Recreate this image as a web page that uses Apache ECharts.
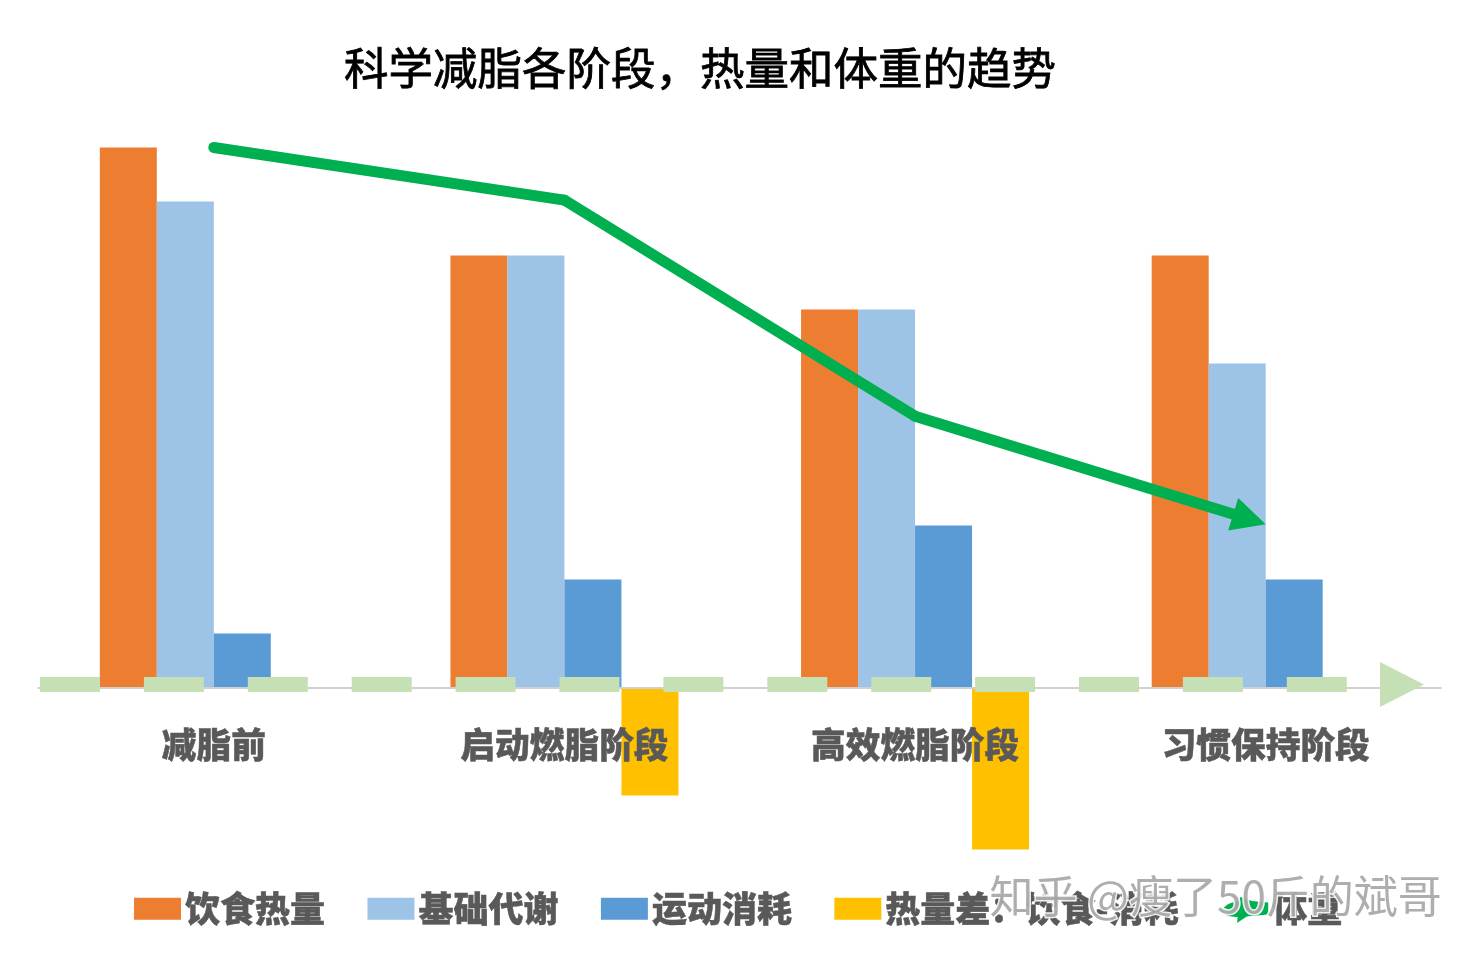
<!DOCTYPE html>
<html><head><meta charset="utf-8">
<style>html,body{margin:0;padding:0;background:#fff}#c{width:1480px;height:958px}</style>
<script src="https://cdn.jsdelivr.net/npm/echarts@6/dist/echarts.min.js"></script>
</head><body><div id="c"></div>
<script>
const categories = ['减脂前','启动燃脂阶段','高效燃脂阶段','习惯保持阶段'];
const intake = [2000,1600,1400,1600];
const metabolism = [1800,1600,1400,1200];
const exercise = [200,400,600,400];
const gap = [0,-400,-600,0];
const weight = [2000,1805,1005,605];
const names = ['饮食热量','基础代谢','运动消耗','热量差：饮食-消耗','体重'];
const titleText = '科学减脂各阶段，热量和体重的趋势';
const watermark = '知乎 @瘦了50斤的斌哥';
const CJK = '"Noto Sans CJK SC","Noto Sans",sans-serif';
const GREEN = '#00B050';

function renderWeight(params, api){
  const i = params.dataIndex;
  const p = api.coord([i, api.value(1)]);
  const children = [];
  if(i>0){
    const q = api.coord([i-1, weight[i-1]]);
    let end = p;
    if(i===weight.length-1){
      const d = Math.hypot(p[0]-q[0],p[1]-q[1]);
      end = [p[0]-(p[0]-q[0])/d*20, p[1]-(p[1]-q[1])/d*20];
      const ux=(p[0]-q[0])/d, uy=(p[1]-q[1])/d, L=34, W=17;
      children.push({type:'polygon',shape:{points:[p,
        [p[0]-ux*L-uy*W,p[1]-uy*L+ux*W],
        [p[0]-ux*L+uy*W,p[1]-uy*L-ux*W]]},style:{fill:GREEN}});
    }
    children.unshift({type:'line',shape:{x1:q[0],y1:q[1],x2:end[0],y2:end[1]},
      style:{stroke:GREEN,lineWidth:11,lineCap:'round',fill:null}});
  }
  return {type:'group',children};
}

const barBase = {type:'bar',barWidth:57,barGap:0};
const chart = echarts.init(document.getElementById('c'),null,{renderer:'canvas'});
chart.setOption({
  animation:false,
  backgroundColor:'#fff',
  title:{text:titleText,left:339,top:41,itemGap:0,padding:5,
    textStyle:{fontFamily:CJK,fontSize:44.5,fontWeight:400,color:'#000',textBorderColor:'#000',textBorderWidth:0.8}},
  legend:{
    left:134,top:891,padding:0,itemWidth:47,itemHeight:22,itemGap:42.2,
    selectedMode:false,
    textStyle:{fontFamily:CJK,fontSize:35,fontWeight:900,color:'#595959',padding:[0,0,0,-1],textBorderColor:'#595959',textBorderWidth:0.5}, 
    data:[{name:names[0],icon:'rect'},{name:names[1],icon:'rect'},{name:names[2],icon:'rect'},{name:names[3],icon:'rect'},
      {name:names[4],icon:'path://M0,14 C4,5 16,3 24,3 L47,5 L47,17 L24,19 C16,19 6,21 0,14 Z'}]
  },
  grid:{left:38.5,width:1402.5,top:147.5,height:702,containLabel:false},
  xAxis:{type:'category',data:categories,z:4,
    axisLine:{onZero:true,lineStyle:{color:'#D0D0D0',width:2}},
    axisTick:{show:false},
    axisLabel:{margin:-122,interval:0,fontFamily:CJK,fontSize:34.7,fontWeight:900,color:'#595959',textBorderColor:'#595959',textBorderWidth:0.5}},
  yAxis:{type:'value',min:-600,max:2000,show:false,splitLine:{show:false}},
  series:[
    Object.assign({},barBase,{name:names[0],data:intake,itemStyle:{color:'#ED7D31'}}),
    Object.assign({},barBase,{name:names[1],data:metabolism,itemStyle:{color:'#9DC3E6'}}),
    Object.assign({},barBase,{name:names[2],data:exercise,itemStyle:{color:'#5B9BD5'}}),
    Object.assign({},barBase,{name:names[3],data:gap,itemStyle:{color:'#FFC000'}}),
    {type:'custom',name:names[4],coordinateSystem:'cartesian2d',z:6,
     itemStyle:{color:GREEN},
     encode:{x:0,y:1},
     data:weight.map((v,i)=>[i,v]),renderItem:renderWeight}
  ],
  graphic:[
    {type:'line',z:7,shape:{x1:40,y1:684.5,x2:1350,y2:684.5},
     style:{stroke:'#C5E0B4',lineWidth:15,lineDash:[60,43.9],fill:null}},
    {type:'polygon',z:7,shape:{points:[[1380,662],[1424,684.5],[1380,707]]},style:{fill:'#C5E0B4'}},
    {type:'polygon',z:8,shape:{points:[[1240,897],[1264,905],[1237,923]]},style:{fill:GREEN}},
    {type:'text',z:20,left:988,top:873,
     style:{text:watermark,font:'44px '+CJK,fill:'rgba(160,160,160,0.85)',stroke:'rgba(255,255,255,0.9)',lineWidth:3}}
  ]
});
</script></body></html>
